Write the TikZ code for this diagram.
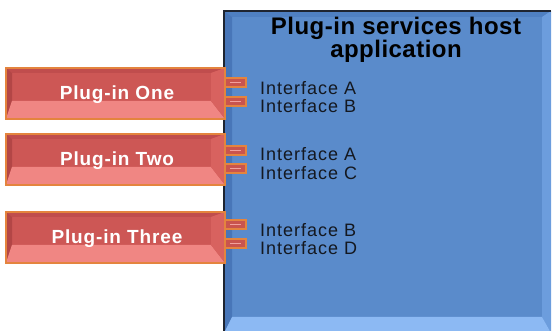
\documentclass[tikz,border=0pt]{standalone}
\usepackage{fontspec}
\setmainfont{Liberation Sans}
\usetikzlibrary{calc}
\definecolor{hostface}{HTML}{5A8BCB}
\definecolor{hosttop}{HTML}{4F80C2}
\definecolor{hostleft}{HTML}{4876B8}
\definecolor{hostright}{HTML}{6C9DDD}
\definecolor{hostbottom}{HTML}{8CB9F3}
\definecolor{hostedge}{HTML}{1E2430}
\definecolor{plugface}{HTML}{CD5755}
\definecolor{plugtop}{HTML}{C04D4D}
\definecolor{plugleft}{HTML}{B34646}
\definecolor{plugright}{HTML}{D8625F}
\definecolor{plugbottom}{HTML}{F08683}
\definecolor{plugedge}{HTML}{E4843E}
\definecolor{tabface}{HTML}{C9544E}
\definecolor{tablight}{HTML}{F2A09C}
\definecolor{textdark}{HTML}{141820}
\newcommand\plugbevel[1]{%
  \fill[plugtop] (#1.north west) -- (#1.north east) -- ($(#1.north east)+(-14,5)$) -- ($(#1.north west)+(6,5)$) -- cycle;
  \fill[plugleft] (#1.north west) -- ($(#1.north west)+(6,5)$) -- ($(#1.south west)+(6,-18)$) -- (#1.south west) -- cycle;
  \fill[plugbottom] (#1.south west) -- ($(#1.south west)+(6,-18)$) -- ($(#1.south east)+(-14,-18)$) -- (#1.south east) -- cycle;
  \fill[plugright] (#1.north east) -- ($(#1.north east)+(-14,5)$) -- ($(#1.south east)+(-14,-18)$) -- (#1.south east) -- cycle;
  \draw[plugedge, line width=1.3pt] (#1.north west) rectangle (#1.south east);
}
\tikzset{
  hostbox/.style={rectangle, fill=hostface, minimum width=327pt, minimum height=322pt, anchor=north west, inner sep=0pt, outer sep=0pt},
  plugbox/.style={rectangle, fill=plugface, minimum width=219pt, minimum height=51pt, anchor=north west, inner sep=0pt, outer sep=0pt},
  tabbox/.style={rectangle, draw=plugedge, line width=1.2pt, fill=tabface, minimum width=21pt, minimum height=9pt, anchor=north west, inner sep=0pt, outer sep=0pt},
  pluglabel/.style={anchor=base, inner sep=0pt, text=white, font=\fontsize{19}{19}\selectfont\bfseries\addfontfeature{LetterSpace=4.5}},
  ifacelabel/.style={anchor=base west, inner sep=0pt, text=textdark, font=\fontsize{18}{18}\selectfont\addfontfeature{LetterSpace=5.5}},
  titlelabel/.style={anchor=base, inner sep=0pt, text=black, align=center, font=\fontsize{24}{23}\selectfont\bfseries\addfontfeature{LetterSpace=2}}
}
\begin{document}
\begin{tikzpicture}[x=1pt,y=-1pt]
\useasboundingbox (0,0) rectangle (552,331);
% host application box
\node[hostbox] (host) at (224,11) {};
\fill[hosttop] (host.north west) -- (host.north east) -- ($(host.north east)+(-9,6)$) -- ($(host.north west)+(8,6)$) -- cycle;
\fill[hostleft] (host.north west) -- ($(host.north west)+(8,6)$) -- ($(host.south west)+(8,-16)$) -- (host.south west) -- cycle;
\fill[hostright] (host.north east) -- ($(host.north east)+(-9,6)$) -- ($(host.south east)+(-9,-16)$) -- (host.south east) -- cycle;
\fill[hostbottom] (host.south west) -- ($(host.south west)+(8,-16)$) -- ($(host.south east)+(-9,-16)$) -- (host.south east) -- cycle;
\draw[hostedge, line width=1.6pt] (host.south west) -- (host.north west) -- (host.north east);
\node[titlelabel] (title) at (396,57.5) {Plug-in services host\\application};
% plug-in boxes
\node[plugbox] (p1) at (6,68) {};
\plugbevel{p1}
\node[plugbox] (p2) at (6,134) {};
\plugbevel{p2}
\node[plugbox] (p3) at (6,212) {};
\plugbevel{p3}
\node[pluglabel] (l1) at ($(p1.center)+(1.5,6)$) {Plug-in One};
\node[pluglabel] (l2) at ($(p2.center)+(1.5,6)$) {Plug-in Two};
\node[pluglabel] (l3) at ($(p3.center)+(1.5,6)$) {Plug-in Three};
% tabs
\foreach \n/\y in {t1a/78, t1b/97, t2a/146, t2b/164, t3a/220, t3b/239}{
  \node[tabbox] (\n) at (225,\y) {};
  \draw[tablight, line width=1.3pt] ($(\n.west)+(5,0)$) -- ($(\n.east)+(-5,0)$);
}
% interface labels
\node[ifacelabel] (i1a) at (260,95) {Interface A};
\node[ifacelabel] (i1b) at (260,113) {Interface B};
\node[ifacelabel] (i2a) at (260,161) {Interface A};
\node[ifacelabel] (i2b) at (260,180) {Interface C};
\node[ifacelabel] (i3a) at (260,237) {Interface B};
\node[ifacelabel] (i3b) at (260,255) {Interface D};
\end{tikzpicture}
\end{document}
